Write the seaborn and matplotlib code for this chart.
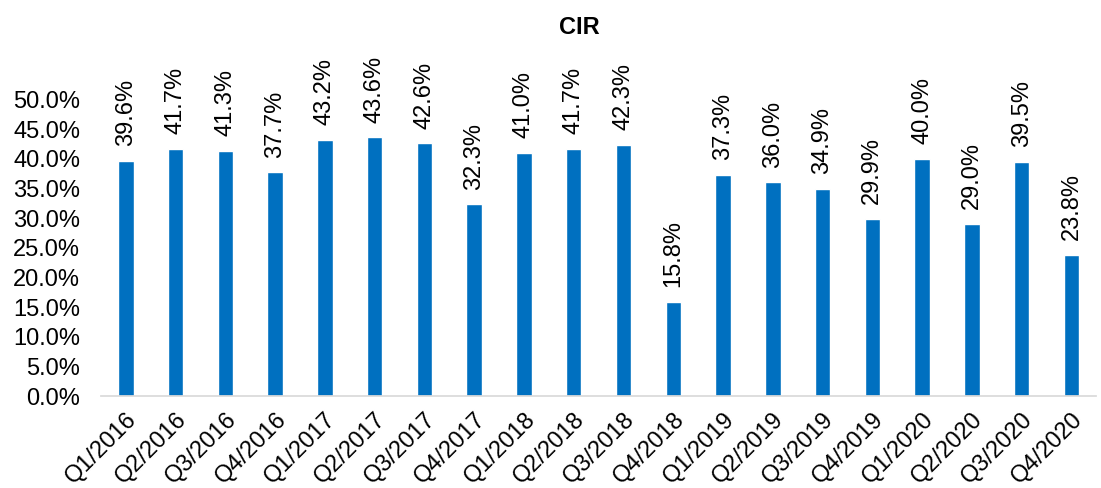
import pandas as pd
import matplotlib
matplotlib.use("Agg")
import matplotlib.pyplot as plt
import seaborn as sns
from matplotlib.ticker import FuncFormatter

quarters = ["Q1/2016", "Q2/2016", "Q3/2016", "Q4/2016",
            "Q1/2017", "Q2/2017", "Q3/2017", "Q4/2017",
            "Q1/2018", "Q2/2018", "Q3/2018", "Q4/2018",
            "Q1/2019", "Q2/2019", "Q3/2019", "Q4/2019",
            "Q1/2020", "Q2/2020", "Q3/2020", "Q4/2020"]
cir = [39.6, 41.7, 41.3, 37.7,
       43.2, 43.6, 42.6, 32.3,
       41.0, 41.7, 42.3, 15.8,
       37.3, 36.0, 34.9, 29.9,
       40.0, 29.0, 39.5, 23.8]

df = pd.DataFrame({"quarter": quarters, "cir": cir})

sns.set_theme(style="white")
plt.rcParams["font.family"] = ["Liberation Sans", "DejaVu Sans"]
plt.rcParams["text.color"] = "black"
plt.rcParams["xtick.color"] = "black"
plt.rcParams["ytick.color"] = "black"

fig = plt.figure(figsize=(11.01, 4.88), dpi=100)
ax = fig.add_axes([0.0917, 0.1885, 0.904, 0.6685])

sns.barplot(data=df, x="quarter", y="cir", color="#0070C0", saturation=1,
            width=0.31, ax=ax)

# etiquetas de valor encima de cada barra
for i, v in enumerate(cir):
    ax.text(i, v + 2.5, f"{v:.1f}%", rotation=90, ha="center", va="bottom",
            fontsize=17, color="black")

ax.set_ylim(0, 55)
ax.set_yticks([i * 5 for i in range(11)])
ax.yaxis.set_major_formatter(FuncFormatter(lambda y, _: f"{y:.1f}%"))
ax.tick_params(axis="y", labelsize=17, length=0, pad=15)
ax.tick_params(axis="x", labelsize=17, length=0, pad=9)
plt.setp(ax.get_xticklabels(), rotation=45, ha="right", rotation_mode="anchor")
ax.set_xlabel("")
ax.set_ylabel("")
sns.despine(ax=ax, left=True, bottom=False)
ax.spines["bottom"].set_color("#d9d9d9")

fig.text(0.526, 0.943, "CIR", ha="center", va="center", fontsize=17,
         fontweight="bold")

fig.savefig("out.png", dpi=100)
